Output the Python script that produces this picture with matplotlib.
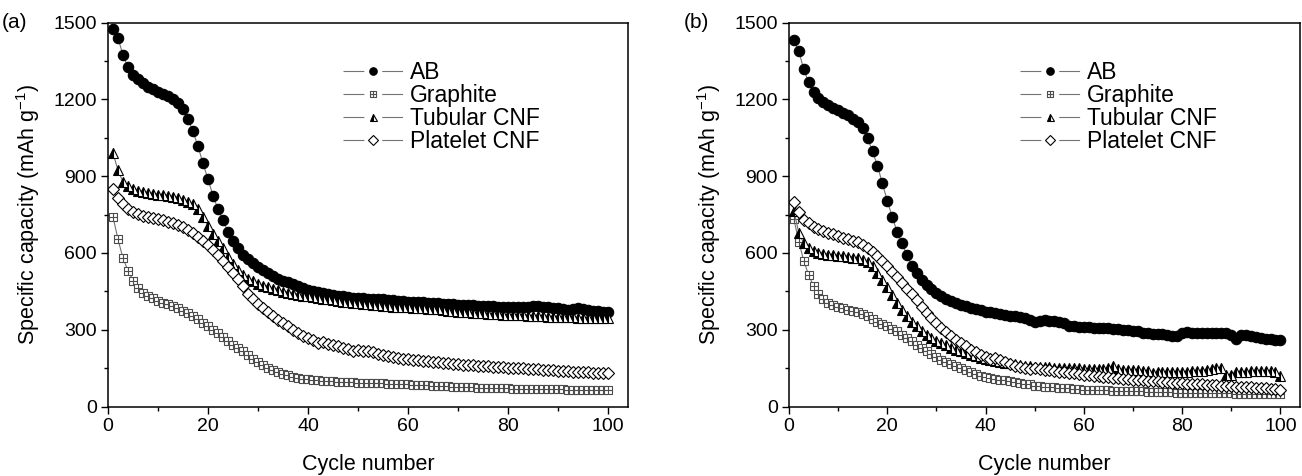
import numpy as np
import matplotlib.pyplot as plt
from matplotlib.path import Path
from matplotlib.lines import Line2D
from matplotlib.ticker import MultipleLocator

plt.rcParams['font.family'] = ['Liberation Sans', 'DejaVu Sans']
plt.rcParams['mathtext.default'] = 'regular'

# cycle index
cycles = np.arange(1, 101)

# (a) capacities, mAh/g
ab_a = [1475, 1440, 1372, 1325, 1295, 1278, 1262, 1250, 1240, 1230,
        1222, 1212, 1200, 1185, 1162, 1122, 1075, 1016, 950, 887,
        824, 770, 727, 683, 648, 618, 592, 575, 560, 545,
        532, 520, 510, 500, 492, 485, 478, 470, 462, 455,
        450, 446, 442, 438, 435, 432, 430, 428, 425, 423,
        422, 421, 420, 419, 418, 416, 415, 414, 412, 410,
        409, 408, 407, 406, 405, 404, 402, 401, 400, 398,
        397, 396, 395, 394, 393, 392, 391, 390, 389, 388,
        388, 387, 388, 390, 392, 391, 389, 387, 386, 384,
        380, 378, 382, 384, 380, 376, 374, 372, 370, 368]
graphite_a = [741, 653, 579, 531, 492, 463, 445, 432, 422, 414,
              406, 400, 393, 384, 375, 365, 352, 340, 327, 314,
              300, 287, 272, 256, 242, 229, 216, 201, 187, 174,
              163, 152, 143, 135, 128, 122, 117, 113, 109, 106,
              104, 102, 101, 99, 98, 97, 96, 95, 94, 93,
              92, 92, 91, 90, 90, 89, 88, 88, 87, 86,
              85, 85, 84, 83, 82, 81, 80, 79, 78, 77,
              76, 76, 75, 74, 74, 73, 72, 72, 71, 71,
              70, 70, 70, 69, 69, 69, 68, 68, 68, 67,
              67, 66, 66, 66, 65, 65, 65, 64, 64, 64]
tubular_a = [990, 923, 877, 860, 850, 843, 838, 834, 831, 828,
             825, 822, 818, 813, 808, 800, 790, 770, 740, 705,
             672, 645, 618, 585, 558, 535, 515, 500, 490, 480,
             472, 465, 459, 454, 449, 445, 441, 437, 433, 430,
             427, 424, 421, 418, 415, 412, 410, 408, 406, 403,
             401, 399, 397, 395, 393, 391, 390, 389, 388, 387,
             386, 385, 384, 382, 380, 379, 377, 375, 373, 371,
             369, 368, 366, 365, 364, 362, 361, 360, 359, 358,
             357, 356, 356, 355, 354, 353, 352, 351, 350, 349,
             349, 348, 348, 347, 347, 346, 346, 345, 345, 344]
platelet_a = [848, 815, 792, 773, 760, 751, 745, 740, 735, 731,
              727, 722, 716, 709, 700, 690, 678, 664, 648, 631,
              612, 590, 567, 544, 521, 497, 471, 440, 418, 400,
              385, 369, 352, 339, 326, 313, 300, 288, 277, 268,
              258, 250, 252, 245, 240, 235, 230, 225, 218, 222,
              218, 215, 211, 207, 203, 199, 195, 191, 187, 184,
              182, 180, 178, 176, 175, 173, 171, 169, 167, 165,
              164, 162, 161, 160, 158, 157, 156, 155, 153, 152,
              151, 150, 149, 148, 147, 146, 144, 143, 141, 139,
              138, 137, 136, 135, 134, 133, 132, 131, 130, 129]

# (b) capacities, mAh/g
ab_b = [1430, 1388, 1317, 1266, 1228, 1204, 1190, 1177, 1166, 1157,
        1146, 1138, 1125, 1111, 1086, 1047, 998, 940, 872, 804,
        741, 683, 638, 590, 550, 521, 495, 475, 458, 443,
        432, 421, 412, 404, 397, 391, 386, 381, 376, 371,
        368, 365, 362, 358, 355, 352, 348, 344, 338, 332,
        335, 336, 335, 334, 332, 326, 315, 313, 311, 310,
        309, 308, 307, 306, 305, 304, 302, 300, 298, 296,
        293, 287, 286, 285, 284, 282, 280, 277, 274, 288,
        290, 289, 288, 288, 288, 287, 287, 286, 286, 280,
        264, 278, 280, 276, 272, 268, 265, 262, 260, 258]
graphite_b = [731, 644, 569, 514, 471, 440, 420, 406, 397, 388,
              383, 378, 373, 368, 360, 352, 342, 332, 323, 313,
              303, 293, 281, 268, 255, 242, 229, 216, 205, 194,
              183, 173, 165, 157, 149, 142, 134, 127, 121, 116,
              112, 108, 105, 103, 100, 97, 93, 89, 86, 82,
              80, 78, 77, 75, 74, 72, 71, 69, 68, 66,
              66, 65, 64, 64, 63, 62, 62, 61, 60, 60,
              59, 59, 58, 57, 57, 56, 55, 55, 54, 53,
              53, 53, 52, 52, 52, 52, 51, 51, 51, 51,
              50, 50, 50, 49, 49, 49, 48, 48, 47, 47]
tubular_b = [765, 677, 638, 618, 608, 600, 596, 592, 590, 588,
             586, 584, 582, 579, 573, 563, 548, 522, 495, 468,
             436, 404, 378, 352, 332, 313, 294, 279, 268, 256,
             247, 239, 230, 222, 215, 209, 202, 196, 191, 186,
             181, 177, 174, 171, 168, 165, 162, 160, 158, 156,
             155, 154, 153, 152, 152, 151, 150, 150, 149, 148,
             148, 147, 147, 148, 150, 160, 146, 144, 143, 142,
             141, 140, 139, 132, 133, 134, 134, 135, 135, 136,
             136, 137, 138, 140, 143, 146, 150, 152, 124, 122,
             133, 135, 136, 137, 137, 138, 138, 137, 136, 118]
platelet_b = [800, 760, 730, 715, 703, 692, 684, 678, 672, 666,
              660, 654, 648, 641, 632, 620, 605, 588, 570, 548,
              525, 505, 483, 460, 438, 415, 390, 365, 346, 326,
              307, 290, 274, 261, 248, 235, 222, 212, 203, 193,
              184, 190, 182, 173, 166, 160, 155, 151, 146, 150,
              147, 144, 141, 138, 136, 134, 132, 130, 128, 125,
              123, 121, 119, 117, 115, 113, 111, 109, 107, 105,
              104, 102, 101, 99, 98, 96, 95, 93, 92, 90,
              89, 88, 87, 86, 85, 84, 83, 82, 80, 79,
              78, 77, 76, 75, 74, 72, 71, 70, 68, 66]

labels = ['AB', 'Graphite', 'Tubular CNF', 'Platelet CNF']

# square with a cross inside, for graphite
box_cross = Path([(-1, -1), (1, -1), (1, 1), (-1, 1), (-1, -1),
                  (0, -1), (0, 1), (-1, 0), (1, 0)],
                 [Path.MOVETO, Path.LINETO, Path.LINETO, Path.LINETO, Path.CLOSEPOLY,
                  Path.MOVETO, Path.LINETO, Path.MOVETO, Path.LINETO])

styles = [
    dict(marker='o', ms=7.5, mfc='black', mec='black', mew=0.8),
    dict(marker=box_cross, ms=6, mfc='white', mec='0.3', mew=0.8),
    dict(marker='^', ms=7, fillstyle='left', mfc='black', mfcalt='white', mec='black', mew=0.8),
    dict(marker='D', ms=6.5, mfc='white', mec='black', mew=0.8),
]

LEG_FS = 16.5
HLEN = 2.6
LINE_W = 0.8
# legend line with a gap around the marker: dash, gap, dash
seg = 0.35 * HLEN * LEG_FS / LINE_W
gap = 0.30 * HLEN * LEG_FS / LINE_W

handles = []
for st in styles:
    ln = Line2D([], [], color='0.45', lw=LINE_W, linestyle=(0, (seg, gap)))
    mk_st = dict(st)
    mk_st['ms'] = st['ms'] * 0.72
    mk = Line2D([], [], linestyle='none', **mk_st)
    handles.append((ln, mk))

fig = plt.figure(figsize=(13.02, 4.76), dpi=100)
ax_a = fig.add_axes([108 / 1302, 69.5 / 476, 520 / 1302, 384 / 476])
ax_b = fig.add_axes([789 / 1302, 69.5 / 476, 511 / 1302, 384 / 476])

panels = [(ax_a, '(a)', [ab_a, graphite_a, tubular_a, platelet_a]),
          (ax_b, '(b)', [ab_b, graphite_b, tubular_b, platelet_b])]

for ax, tag, data in panels:
    for vals, st in zip(data, styles):
        ax.plot(cycles, vals, '-', color='0.45', lw=LINE_W, **st)
    ax.set_xlim(0, 104)
    ax.set_ylim(0, 1500)
    ax.xaxis.set_major_locator(MultipleLocator(20))
    ax.xaxis.set_minor_locator(MultipleLocator(10))
    ax.yaxis.set_major_locator(MultipleLocator(300))
    ax.yaxis.set_minor_locator(MultipleLocator(150))
    ax.tick_params(which='major', direction='out', length=5, width=1, labelsize=14, pad=3)
    ax.tick_params(which='minor', direction='out', length=3, width=1)
    for sp in ax.spines.values():
        sp.set_linewidth(1.1)
    ax.set_xlabel('Cycle number', fontsize=15.5, labelpad=14)
    ax.set_ylabel('Specific capacity (mAh g$^{-1}$)', fontsize=15.5, labelpad=8)
    ax.text(-0.205, 1.0, tag, transform=ax.transAxes, fontsize=15, ha='left', va='center')
    ax.legend(handles, labels, loc='upper left', bbox_to_anchor=(0.43, 0.93),
              frameon=False, fontsize=LEG_FS, handlelength=HLEN, handletextpad=0.3,
              labelspacing=0.0, borderpad=0)

fig.savefig('out.png', dpi=100)
